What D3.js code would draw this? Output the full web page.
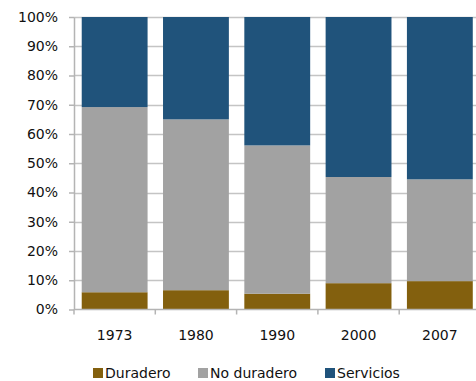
<!DOCTYPE html>
<html>
<head>
<meta charset="utf-8">
<script src="https://cdn.jsdelivr.net/npm/d3@7"></script>
<style>
  html, body { margin: 0; padding: 0; background: #fff; }
  svg { display: block; }
  text { font-family: "DejaVu Sans", Verdana, sans-serif; fill: #111; }
</style>
</head>
<body>
<svg id="chart" width="476" height="381"></svg>
<script>
// Consumption share by type of good (percent of total)
const years = ["1973", "1980", "1990", "2000", "2007"];
const duradero = [5.9, 6.6, 5.4, 9.0, 9.7];
const noDuradero = [63.3, 58.4, 50.7, 36.3, 34.8];
const servicios = [30.8, 35.0, 43.9, 54.7, 55.5];
const seriesNames = ["Duradero", "No duradero", "Servicios"];
const seriesColors = ["#83600E", "#A2A2A2", "#20537B"];
const yTicks = [0, 10, 20, 30, 40, 50, 60, 70, 80, 90, 100];

const rows = years.map((yr, i) => ({
  year: yr,
  "Duradero": duradero[i],
  "No duradero": noDuradero[i],
  "Servicios": servicios[i]
}));

const svg = d3.select("#chart");
const plotLeft = 74, plotRight = 480.5, plotTop = 17, plotBottom = 309.5;
const fontSize = 14;

const x = d3.scaleBand().domain(years).range([plotLeft, plotRight]).paddingInner(0.19).paddingOuter(0.095);
const y = d3.scaleLinear().domain([0, 100]).range([plotBottom, plotTop]);
const color = d3.scaleOrdinal().domain(seriesNames).range(seriesColors);

// horizontal gridlines
svg.append("g")
  .selectAll("line")
  .data(yTicks.filter(d => d > 0))
  .join("line")
  .attr("x1", plotLeft).attr("x2", 476)
  .attr("y1", d => Math.round(y(d)) + 0.5).attr("y2", d => Math.round(y(d)) + 0.5)
  .attr("stroke", "#c4c4c4").attr("stroke-width", 1.5);

// stacked bars
const stack = d3.stack().keys(seriesNames)(rows);
svg.append("g")
  .selectAll("g")
  .data(stack)
  .join("g")
  .attr("fill", d => color(d.key))
  .selectAll("rect")
  .data(d => d)
  .join("rect")
  .attr("x", d => x(d.data.year))
  .attr("width", x.bandwidth())
  .attr("y", d => y(d[1]))
  .attr("height", d => y(d[0]) - y(d[1]));

// y axis
const yAxis = svg.append("g")
  .attr("transform", `translate(${plotLeft},0)`)
  .call(d3.axisLeft(y).tickValues(yTicks).tickFormat(d => d + "%").tickSize(5).tickSizeOuter(0).tickPadding(11));
yAxis.select(".domain").attr("stroke", "#b4b4b4").attr("stroke-width", 1.5);
yAxis.selectAll(".tick line").attr("stroke", "#b4b4b4").attr("stroke-width", 1.5);
yAxis.selectAll(".tick text").attr("font-size", fontSize).attr("font-family", "DejaVu Sans").attr("fill", "#111");

// x axis baseline with category boundary ticks
const xAxisG = svg.append("g");
xAxisG.append("line")
  .attr("x1", plotLeft).attr("x2", 476)
  .attr("y1", plotBottom).attr("y2", plotBottom)
  .attr("stroke", "#b4b4b4").attr("stroke-width", 1.5);
const step = x.step();
const boundaries = years.map((d, i) => plotLeft + step * i).concat([plotLeft + step * years.length]);
xAxisG.selectAll("line.b")
  .data(boundaries)
  .join("line")
  .attr("class", "b")
  .attr("x1", d => d).attr("x2", d => d)
  .attr("y1", plotBottom).attr("y2", plotBottom + 5)
  .attr("stroke", "#b4b4b4").attr("stroke-width", 1.5);
xAxisG.selectAll("text")
  .data(years)
  .join("text")
  .attr("x", d => x(d) + x.bandwidth() / 2)
  .attr("y", 340)
  .attr("text-anchor", "middle")
  .attr("font-size", fontSize)
  .text(d => d);

// legend
const legendX = [93, 198, 325];
const legend = svg.append("g");
seriesNames.forEach((name, i) => {
  const g = legend.append("g").attr("transform", `translate(${legendX[i]},368)`);
  g.append("rect").attr("width", 10).attr("height", 10).attr("fill", color(name));
  g.append("text").attr("x", 12).attr("y", 10).attr("font-size", fontSize).text(name);
});
</script>
</body>
</html>
